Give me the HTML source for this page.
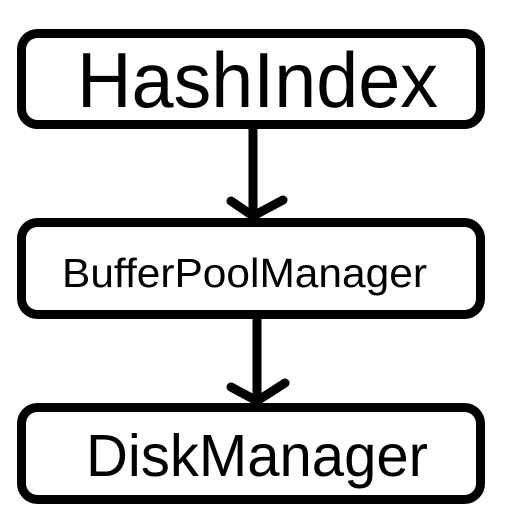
<!DOCTYPE html>
<html><head><style>html,body{margin:0;padding:0;background:#fff;}</style></head>
<body>
<svg width="512" height="521" viewBox="0 0 512 521" xmlns="http://www.w3.org/2000/svg">
<g fill="none" stroke="#000" stroke-width="9" stroke-linecap="round" stroke-linejoin="round">
<rect x="21.5" y="33.5" width="459" height="91" rx="16"/>
<rect x="21.5" y="222.5" width="459" height="92" rx="16"/>
<rect x="21.5" y="407.5" width="459" height="92" rx="16"/>
<line x1="253" y1="129" x2="253" y2="215"/>
<polyline points="231,201 253,216 283,200"/>
<line x1="257" y1="319" x2="257" y2="400"/>
<polyline points="231,387 257,401 285,383"/>
</g>
<g font-family="Liberation Sans, sans-serif" fill="#000">
<text x="77" y="107" font-size="78" textLength="361" lengthAdjust="spacingAndGlyphs">HashIndex</text>
<text x="62" y="287" font-size="41" textLength="365" lengthAdjust="spacingAndGlyphs">BufferPoolManager</text>
<text x="86" y="476" font-size="59" textLength="342" lengthAdjust="spacingAndGlyphs">DiskManager</text>
</g>
</svg>
</body></html>
